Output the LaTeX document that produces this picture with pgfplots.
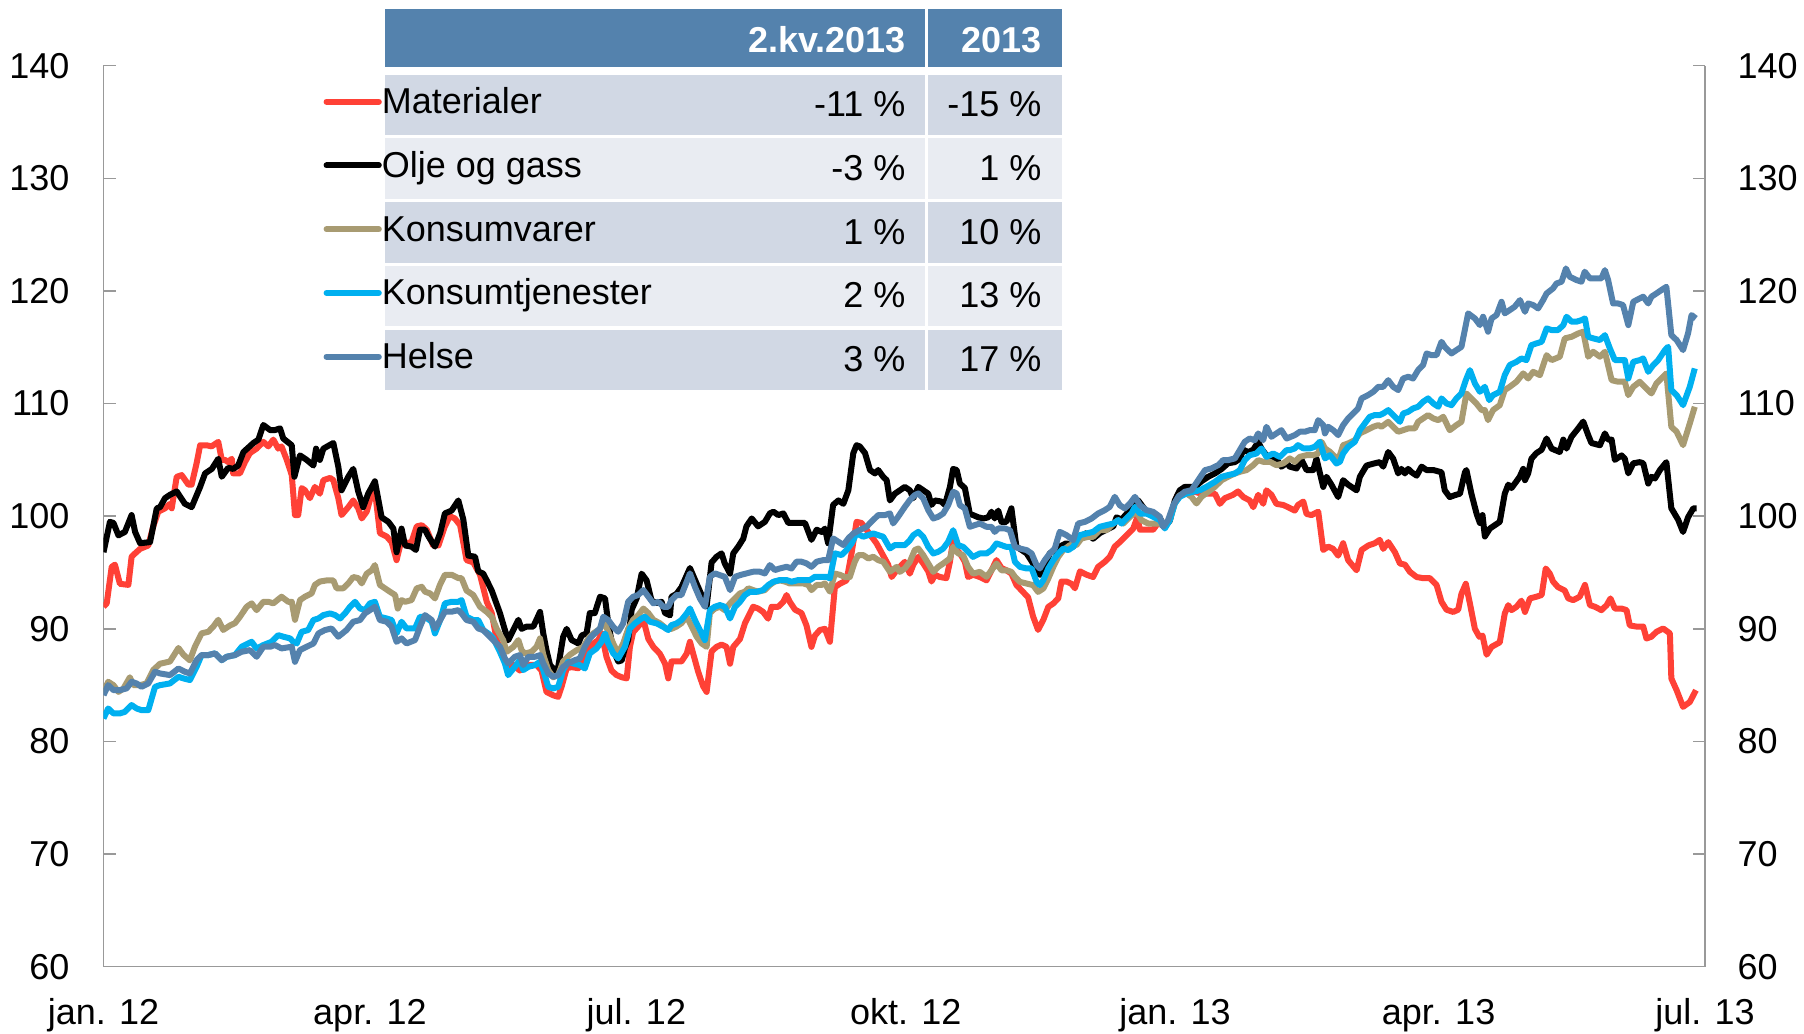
\documentclass[border=0pt]{standalone}
\usepackage{fontspec}
\setmainfont{Liberation Sans}
\usepackage{pgfplots}
\pgfplotsset{compat=1.18}
\definecolor{cRed}{HTML}{FF4136}
\definecolor{cKhaki}{HTML}{A89B72}
\definecolor{cCyan}{HTML}{00B0F0}
\definecolor{cSteel}{HTML}{5482AD}
\definecolor{hdr}{HTML}{5482AD}
\definecolor{rowA}{HTML}{D1D8E4}
\definecolor{rowB}{HTML}{E9ECF2}
\definecolor{axgray}{HTML}{999999}
\newcommand{\fs}{\fontsize{14.4}{17}\selectfont}
\begin{document}
\begin{tikzpicture}
% table background (pixel units)
\begin{scope}[x=0.4pt,y=-0.4pt]
\fill[hdr] (384.6,9.3) rectangle (925.4,67.3);
\fill[hdr] (928.4,9.3) rectangle (1062,67.3);
\foreach \i/\c in {0/rowA,1/rowB,2/rowA,3/rowB,4/rowA}{
  \fill[\c] (384.6,{74.5+63.75*\i}) rectangle (925.4,{135.2+63.75*\i});
  \fill[\c] (928.4,{74.5+63.75*\i}) rectangle (1062,{135.2+63.75*\i});
}
\node[anchor=base east,inner sep=0pt,text=white,font=\fs\bfseries] at (906,52.7) {2.kv.2013};
\node[anchor=base east,inner sep=0pt,text=white,font=\fs\bfseries] at (1042,52.7) {2013};
\foreach \i/\a/\b in {0/-11 \%/-15 \%,1/-3 \%/1 \%,2/1 \%/10 \%,3/2 \%/13 \%,4/3 \%/17 \%}{
  \node[anchor=base east,inner sep=0pt,font=\fs] at (906,{116.7+63.75*\i}) {\a};
  \node[anchor=base east,inner sep=0pt,font=\fs] at (1042,{116.7+63.75*\i}) {\b};
}
\end{scope}

\begin{axis}[
  at={(41.4pt,-26.28pt)}, anchor=north west,
  scale only axis, width=640.6pt, height=360.4pt,
  xmin=0, xmax=547, ymin=60, ymax=140,
  axis x line*=bottom, axis y line*=left,
  axis line style={axgray, line width=0.6pt},
  xtick={0,91,182,274,366,456,547},
  xticklabels={jan. 12, apr. 12, jul. 12, okt. 12, jan. 13, apr. 13, jul. 13},
  xtick style={draw=none},
  ytick={60,70,...,140},
  ytick align=inside,
  ytick style={axgray, line width=0.6pt},
  major tick length=4.8pt,
  xticklabel style={anchor=base, inner sep=0pt, yshift=-23.2pt, font=\fs},
  yticklabel style={anchor=east, inner sep=0pt, xshift=-13.4pt, font=\fs},
  /pgf/number format/assume math mode=true,
  legend cell align=left,
  legend style={at={(axis description cs:0.13740,0.97600)}, anchor=north west,
    draw=none, fill=none, inner sep=0pt, outer sep=0pt, column sep=0pt, row sep=0pt,
    font=\fs, nodes={inner sep=0pt, text height=10.5pt, text depth=15pt}},
  legend image code/.code={\draw[#1,line cap=round] (0pt,7pt) -- (20.9pt,7pt);},
]
\addplot[cRed, line width=2.4pt, line join=round] coordinates {
(0,91.96) (1.1,92.26) (2.8,95.5) (3.9,95.7) (5.6,94.0) (8.5,93.9) (9.6,96.4) (10.8,96.7) (12.5,97.1) (15.3,97.4) (17.0,99.1) (18.7,100.4) (21.0,100.7) (22.7,101.1) (23.3,100.7) (25.0,103.5) (26.7,103.65) (29.0,102.8) (30.1,102.8) (31.8,104.7) (33.0,106.3) (35.2,106.3) (36.9,106.2) (39.2,106.6) (40.4,105.0) (41.5,105.0) (42.6,104.8) (43.8,105.1) (44.3,103.8) (46.6,103.8) (48.3,104.8) (50.0,105.6) (52.3,106.0) (54.6,106.6) (56.3,106.2) (58.0,106.8) (59.7,106.0) (60.8,106.2) (62.6,105.0) (64.3,103.65) (65.4,100.1) (66.5,100.1) (67.7,102.5) (68.8,102.3) (70.5,101.6) (72.2,102.6) (73.9,102.0) (75.1,103.2) (77.4,103.4) (78.5,103.2) (80.2,101.6) (81.3,100.1) (83.6,100.8) (85.3,101.4) (87.0,100.7) (88.2,99.8) (89.9,100.4) (91.6,102.0) (92.7,102.3) (94.4,98.5) (96.7,98.2) (98.4,97.7) (100.1,96.1) (101.8,97.9) (103.0,97.6) (105.2,97.7) (107.0,99.1) (108.7,99.2) (110.4,98.8) (112.6,97.4) (114.4,97.4) (116.6,99.1) (118.3,100.0) (120.0,99.8) (121.8,99.2) (124.0,96.1) (126.3,95.9) (128.6,94.8) (130.9,92.4) (132.6,91.4) (134.3,89.0) (136.0,88.0) (138.3,86.5) (140.0,86.8)
(142.2,86.3) (143.9,86.6) (145.6,86.8) (147.9,86.8) (149.6,86.3) (151.3,84.4) (153.6,84.1) (155.3,83.96) (156.5,84.9) (158.2,86.5) (159.9,86.6) (162.2,86.5) (163.9,87.4) (165.6,88.1) (167.3,88.7) (169.0,89.0) (170.1,89.6) (171.8,87.5) (173.5,86.3) (175.2,85.9) (177.0,85.7) (178.7,85.6) (179.8,88.4) (180.9,89.7) (182.6,90.2) (184.4,90.8) (186.1,89.1) (187.8,88.4) (190.0,87.8) (191.8,86.9) (192.9,85.6) (194.0,87.1) (195.7,87.1) (197.4,87.1) (199.2,87.8) (200.3,88.85) (201.4,87.8) (203.1,86.2) (204.8,84.9) (206.0,84.4) (207.7,88.0) (209.4,88.4) (211.1,88.6) (212.8,88.4) (214.0,86.9) (215.1,88.4) (217.4,89.1) (219.1,90.5) (220.8,91.4) (221.9,91.96) (223.6,91.8) (225.3,91.5) (227.0,90.9) (228.2,91.96) (230.5,91.96) (232.2,92.4) (233.3,93.0) (234.4,92.4) (236.2,91.7) (238.4,91.4) (240.1,90.3) (241.8,88.4) (243.0,89.4) (244.7,89.9) (246.4,90.0) (248.1,88.85) (249.8,93.7) (251.5,94.0) (253.8,94.3) (255.5,96.7) (257.2,99.5) (258.9,99.4) (260.6,98.8) (262.3,98.2) (264.0,97.6) (266.3,96.5) (268.0,95.7) (269.2,94.6) (270.9,95.2)
(272.0,95.5) (273.7,95.95) (275.4,94.9) (276.6,95.7) (278.3,96.4) (280.0,95.8) (281.7,95.1) (282.8,94.2) (284.0,94.8) (285.7,94.6) (287.9,94.5) (289.1,95.95) (290.2,97.9) (291.4,97.0) (292.5,96.7) (294.2,95.95) (295.3,94.6) (297.0,94.8) (299.3,94.6) (301.6,94.3) (303.3,95.2) (305.0,96.1) (306.7,95.4) (308.4,95.2) (310.1,94.9) (311.8,93.9) (313.6,93.4) (315.8,92.8) (317.5,91.1) (319.2,89.9) (321.0,90.8) (322.7,91.95) (324.4,92.25) (326.1,92.7) (327.2,94.2) (328.9,94.2) (330.6,94.0) (331.8,93.6) (333.5,95.1) (335.8,94.8) (338.0,94.6) (339.7,95.5) (342.0,95.95) (343.7,96.4) (345.4,97.3) (347.1,97.7) (349.4,98.3) (351.7,98.9) (353.1,99.9) (354.0,98.8) (356.2,98.8) (358.5,98.8) (360.2,99.4) (362.5,99.06) (364.2,99.8) (366.5,101.7) (368.2,102.3) (369.9,102.3) (372.2,102.2) (375.0,102.0) (377.3,102.0) (379.6,102.0) (381.3,101.1) (383.0,101.6) (385.8,101.9) (387.5,102.2) (389.3,101.7) (391.5,101.4) (392.7,100.8) (394.4,101.9) (396.1,101.1) (397.2,102.3) (398.9,101.9) (400.6,101.1) (402.9,101.0) (404.6,100.8)
(406.9,100.5) (408.0,101.0) (409.8,101.3) (410.9,100.2) (412.6,100.1) (414.9,100.4) (416.6,97.0) (418.3,97.3) (420.0,97.1) (421.7,96.5) (423.4,97.6) (425.1,96.1) (428.0,95.2) (429.7,97.0) (432.0,97.4) (434.2,97.6) (435.9,97.9) (437.1,97.1) (438.8,97.7) (441.1,96.8) (442.8,95.8) (444.5,95.7) (446.2,95.06) (448.5,94.6) (450.7,94.5) (453.0,94.5) (455.3,93.9) (457.0,92.4) (458.7,91.7) (461.0,91.5) (462.7,91.7) (463.8,93.1) (465.3,94.0) (466.7,92.25) (468.4,90.0) (469.9,89.3) (471.0,89.4) (472.4,87.7) (474.1,88.4) (476.9,88.8) (478.6,91.36) (479.8,92.1) (480.9,91.66) (482.6,91.95) (484.3,92.5) (485.5,91.5) (487.2,92.7) (489.4,92.85) (491.2,93.0) (492.6,95.36) (494.0,94.9) (495.1,94.2) (496.8,93.7) (499.1,93.4) (500.3,92.7) (502.0,92.55) (504.2,92.85) (506.0,93.9) (507.7,92.1) (509.4,91.96) (511.6,91.66) (513.4,92.1) (514.7,92.7) (516.2,91.8) (518.5,91.8) (520.2,91.66) (521.3,90.3) (523.6,90.2) (525.9,90.2) (527.0,89.14) (528.7,89.3) (530.4,89.73) (532.7,90.03) (535.0,89.6) (535.5,85.59) (537.3,84.55) (539.5,83.07) (541.8,83.5) (543.9,84.55)
};
\addlegendentry{Materialer}
\addplot[black, line width=2.4pt, line join=round] coordinates {
(0,96.8) (2.2,99.5) (3.4,99.4) (5.1,98.3) (7.3,98.6) (9.6,100.1) (10.8,98.6) (12.5,97.6) (15.9,97.7) (18.2,100.7) (19.3,100.8) (21.0,101.6) (22.7,101.9) (25.0,102.2) (27.8,101.1) (30.1,100.8) (33.0,102.6) (34.7,103.8) (37.0,104.2) (39.2,105.1) (40.4,103.5) (42.6,104.3) (44.3,104.2) (46.0,104.5) (47.8,105.7) (51.2,106.5) (52.9,106.8) (54.6,108.1) (56.9,107.65) (58.6,107.65) (60.3,107.8) (61.4,106.9) (64.3,106.3) (65.2,103.5) (67.1,105.4) (69.4,105.0) (71.7,104.5) (72.6,106.0) (73.9,105.0) (75.1,106.0) (78.5,106.5) (80.2,104.4) (81.3,102.3) (83.6,103.5) (85.3,104.2) (87.0,102.2) (88.7,100.8) (90.4,102.0) (92.7,103.1) (95.0,99.9) (97.3,99.5) (99.0,98.9) (100.1,96.8) (101.8,98.9) (103.0,97.4) (105.2,97.3) (106.7,97.0) (108.1,98.8) (109.8,98.8) (111.0,98.2) (113.2,97.3) (115.0,98.5) (116.6,100.25) (118.9,100.5) (121.2,101.4) (122.9,99.7) (124.6,96.5) (126.9,96.4) (128.0,95.1) (129.7,94.9) (130.9,94.3) (132.6,93.4) (135.4,91.4) (137.1,89.9) (138.2,88.98)
(141.7,90.8) (142.8,90.0) (144.5,90.2) (146.8,90.2) (149.1,91.5) (150.2,89.6) (151.3,88.1) (152.5,86.8) (154.2,86.3) (155.3,86.6) (157.0,89.3) (158.2,90.0) (159.9,89.0) (162.2,88.7) (163.3,89.4) (165.0,89.6) (166.1,91.4) (167.8,91.4) (169.6,92.85) (171.3,92.7) (172.4,90.5) (174.1,88.1) (175.8,87.1) (177.0,87.2) (178.1,88.3) (179.2,89.0) (180.4,91.7) (182.1,92.7) (183.8,94.9) (185.5,94.3) (187.2,92.5) (188.9,92.3) (190.6,92.4) (191.8,91.4) (193.5,91.2) (194.0,92.85) (195.7,93.1) (197.4,93.7) (200.3,95.4) (202.6,94.0) (204.3,93.0) (206.0,92.0) (207.7,95.9) (209.4,96.4) (211.1,96.7) (212.2,95.8) (214.0,94.9) (215.1,96.7) (216.8,97.3) (218.5,98.0) (219.6,99.1) (221.4,99.8) (223.6,99.1) (225.9,99.5) (227.6,100.25) (228.8,100.4) (230.5,100.1) (232.2,100.25) (233.9,99.4) (235.6,99.4) (237.3,99.4) (239.6,99.4) (241.8,97.9) (243.6,98.8) (245.3,98.6) (246.4,98.9) (247.5,97.6) (249.2,101.0) (251.0,101.4) (252.7,101.1) (254.4,102.3) (256.1,105.6) (257.2,106.3) (258.3,106.2) (260.1,105.6) (261.8,104.1) (263.5,103.8) (264.6,104.1) (266.3,103.5) (267.5,103.2) (268.6,101.4) (270.3,102.0)
(272.0,102.3) (273.7,102.6) (275.4,102.3) (276.6,101.6) (278.3,102.6) (280.0,102.3) (281.7,102.0) (282.8,101.0) (284.0,101.4) (286.2,101.3) (287.4,101.0) (289.1,102.6) (290.2,104.2) (291.4,104.1) (292.5,102.9) (294.2,102.5) (295.9,100.2) (297.0,100.1) (298.8,99.9) (300.5,99.8) (302.2,99.9) (303.3,100.4) (304.4,99.8) (305.6,100.5) (306.7,99.5) (308.4,99.5) (310.1,100.7) (311.8,97.3) (313.6,97.0) (315.3,96.7) (317.5,95.8) (318.7,95.1) (319.8,94.8) (321.5,95.5) (323.2,96.7) (324.9,97.0) (326.6,97.3) (328.9,97.6) (331.2,97.3) (333.5,98.2) (335.8,98.5) (338.0,98.0) (340.3,98.5) (342.6,98.8) (344.9,99.1) (346.0,99.9) (347.7,99.7) (349.4,100.2) (351.7,101.1) (353.4,101.4) (355.1,100.8) (356.8,100.2) (358.5,100.2) (360.8,99.8) (362.5,99.1) (364.2,99.6) (365.9,101.4) (367.6,102.3) (369.3,102.6) (371.0,102.6) (372.8,102.6) (375.0,103.1) (377.3,103.5) (379.6,103.8) (381.9,104.2) (384.1,104.7) (386.4,104.8) (388.1,105.1) (389.3,105.9) (391.0,105.7) (392.7,105.9) (394.4,106.6) (395.5,106.0) (397.2,105.4) (398.9,105.3) (400.6,105.1) (402.3,104.4) (404.1,104.7)
(405.2,104.4) (407.5,104.24) (409.2,105.0) (410.9,104.1) (413.2,104.1) (414.3,105.1) (415.4,103.9) (416.6,102.6) (417.7,103.5) (419.4,102.8) (421.7,101.7) (423.4,103.2) (425.1,102.8) (428.0,102.3) (429.1,103.5) (431.4,104.5) (434.2,104.7) (435.9,104.8) (437.1,104.4) (438.8,105.7) (440.5,105.1) (442.2,103.8) (443.3,104.2) (444.5,103.8) (445.6,104.2) (446.8,103.9) (448.5,103.6) (450.2,104.4) (451.9,104.1) (454.2,104.1) (457.0,103.9) (458.1,102.3) (459.8,101.7) (461.6,101.87) (463.3,102.0) (465.0,103.9) (465.5,104.1) (467.2,102.0) (469.0,100.2) (470.1,99.4) (471.0,100.1) (471.8,98.2) (473.5,98.9) (476.9,99.5) (478.6,102.0) (479.8,102.8) (480.9,102.5) (482.6,103.1) (483.7,103.5) (484.9,104.2) (485.5,103.2) (486.6,103.8) (487.7,105.1) (489.4,105.6) (491.2,105.9) (492.9,106.9) (494.6,106.0) (497.4,105.7) (498.6,106.8) (499.7,106.0) (501.4,107.05) (503.7,107.8) (505.4,108.4) (507.1,107.2) (508.2,106.5) (511.1,106.3) (512.8,107.35) (513.9,106.8) (515.1,106.8) (516.2,105.0) (518.5,105.4) (519.6,105.1) (520.8,103.8) (522.5,104.7) (524.7,104.8) (525.9,104.7) (527.6,102.9) (528.7,103.5) (529.9,103.35) (531.6,104.1) (533.8,104.8) (535.5,100.7) (537.8,99.7) (539.5,98.6) (541.2,99.9) (543.0,100.7) (544.1,100.7)
};
\addlegendentry{Olje og gass}
\addplot[cKhaki, line width=2.4pt, line join=round] coordinates {
(0,84.4) (1.6,85.3) (3.4,85.0) (5.1,84.4) (6.8,84.7) (9.0,85.7) (10.2,85.0) (12.5,85.0) (14.7,85.15) (17.0,86.35) (19.3,86.9) (22.7,87.1) (25.6,88.3) (27.3,87.7) (29.5,87.2) (31.2,88.4) (33.5,89.6) (35.8,89.74) (37.5,90.2) (39.2,90.8) (40.9,89.9) (43.2,90.3) (44.9,90.5) (46.6,91.07) (48.9,91.96) (50.6,92.26) (52.3,91.66) (54.6,92.4) (56.3,92.4) (58.0,92.26) (60.8,92.85) (63.1,92.4) (64.3,92.4) (65.4,90.8) (67.1,92.55) (68.8,92.85) (71.1,93.15) (72.2,93.9) (73.9,94.2) (76.2,94.3) (78.5,94.3) (79.6,93.6) (81.9,93.6) (83.6,94.03) (85.3,94.6) (87.0,94.5) (88.2,94.03) (89.9,94.9) (91.6,95.2) (92.7,95.66) (94.4,93.9) (96.1,93.6) (97.8,93.3) (99.6,93.0) (100.5,91.8) (101.8,92.55) (103.0,92.4) (105.2,92.55) (107.0,93.6) (108.7,93.73) (109.8,93.3) (111.5,93.15) (113.2,92.7) (114.9,93.9) (116.6,94.8) (118.9,94.8) (121.2,94.5) (122.3,94.5) (124.0,93.4) (126.3,93.0) (128.6,91.96) (130.9,91.5) (132.6,91.07) (134.3,90.0) (136.5,89.0) (137.7,87.96)
(140.0,88.4) (141.7,89.0) (142.8,88.1) (143.9,87.8) (146.2,87.96) (147.9,88.4) (149.1,89.15) (150.2,87.7) (151.9,86.35) (153.6,85.7) (155.3,85.9) (157.0,87.1) (159.3,87.7) (161.6,88.1) (163.9,88.4) (165.6,89.15) (167.3,89.6) (169.6,90.0) (170.7,90.8) (172.4,89.74) (174.1,88.7) (175.8,87.8) (177.5,88.7) (179.2,90.0) (180.9,90.8) (182.6,91.2) (184.4,91.8) (186.1,91.4) (187.8,90.8) (190.0,90.5) (192.3,90.0) (194.0,90.0) (195.7,90.2) (197.4,90.5) (199.2,91.07) (200.9,90.2) (202.6,89.3) (204.3,88.7) (206.0,88.4) (207.1,91.4) (208.8,91.8) (210.5,91.96) (212.2,91.66) (214.0,92.26) (215.7,92.7) (217.4,93.15) (219.1,93.3) (220.2,93.6) (221.9,93.44) (223.6,93.3) (225.9,93.44) (227.6,93.9) (229.3,94.2) (231.0,94.3) (232.7,94.2) (234.4,94.03) (236.7,94.03) (239.0,94.03) (240.7,93.9) (241.8,93.44) (243.6,93.9) (245.3,93.9) (246.4,94.03) (248.1,93.3) (249.8,94.9) (251.5,94.8) (253.2,94.6) (254.9,94.6) (256.6,95.96) (257.8,96.55) (259.5,96.55) (261.2,96.25) (262.9,96.4) (264.6,96.1) (266.3,95.96) (268.6,95.07) (270.9,95.5)
(272.0,95.06) (273.7,95.36) (275.4,95.95) (277.1,97.0) (278.3,97.13) (280.0,96.54) (281.7,95.8) (283.4,95.06) (285.1,95.5) (286.8,95.8) (289.1,96.25) (290.2,97.28) (291.9,96.7) (293.6,96.54) (295.3,95.5) (297.0,94.9) (299.3,95.06) (301.6,94.62) (303.3,95.2) (305.0,95.8) (306.7,95.2) (308.4,95.2) (310.1,95.06) (311.3,94.62) (313.0,94.17) (315.3,94.02) (317.5,93.88) (319.2,93.28) (321.0,93.58) (322.7,94.47) (324.4,95.5) (326.1,96.39) (327.8,96.99) (330.1,97.43) (332.3,97.43) (334.0,98.02) (336.3,98.17) (338.0,98.17) (340.3,98.76) (342.6,98.76) (344.9,99.35) (346.6,99.65) (348.3,99.35) (350.6,99.95) (352.8,100.39) (354.5,99.65) (356.8,99.35) (358.5,99.35) (360.8,99.35) (362.5,99.06) (364.2,99.65) (365.9,101.13) (367.6,101.87) (369.9,102.02) (371.6,101.72) (373.3,101.13) (375.0,101.72) (377.3,102.17) (379.6,102.61) (381.9,103.2) (384.1,103.5) (386.4,103.79) (388.1,103.94) (390.4,104.09) (392.7,104.53) (394.4,104.98) (396.1,104.83) (398.4,104.83) (400.6,104.53) (402.9,104.68)
(405.2,105.13) (406.9,104.83) (408.6,105.27) (410.9,105.42) (413.2,105.42) (414.9,105.57) (416.0,106.61) (417.2,106.02) (418.9,105.72) (421.1,105.13) (422.3,105.42) (423.4,106.31) (425.1,106.46) (427.4,106.76) (429.1,107.35) (431.4,107.64) (433.7,107.94) (435.4,108.09) (436.5,107.94) (438.8,108.38) (440.5,107.94) (442.2,107.5) (443.9,107.64) (445.6,107.79) (447.9,107.79) (449.0,108.38) (450.7,108.68) (452.4,108.98) (454.2,108.68) (455.9,108.53) (457.6,108.83) (459.8,107.64) (462.1,108.09) (463.8,108.38) (465.5,110.9) (467.2,110.46) (468.9,110.01) (470.7,109.42) (471.8,109.42) (472.9,108.53) (474.6,109.42) (476.9,109.86) (478.6,111.2) (480.3,111.49) (482.6,111.94) (484.9,112.68) (486.6,112.23) (488.3,112.82) (490.6,112.53) (492.9,114.3) (494.6,113.86) (497.4,114.16) (499.1,115.79) (501.4,115.93) (503.7,116.23) (505.4,116.38) (507.1,114.16) (508.8,114.6) (511.1,114.16) (512.8,114.6) (515.1,112.08) (517.3,111.94) (519.6,111.94) (520.8,110.75) (522.5,111.49) (524.7,111.94) (526.4,111.49) (528.7,110.9) (530.4,111.79) (533.8,112.68) (535.5,107.94) (537.3,107.5) (539.5,106.31) (541.8,108.24) (543.5,109.72)
};
\addlegendentry{Konsumvarer}
\addplot[cCyan, line width=2.4pt, line join=round] coordinates {
(0,82.04) (1.6,82.93) (3.4,82.49) (5.6,82.49) (7.3,82.63) (9.6,83.23) (11.3,82.93) (13.0,82.78) (15.3,82.78) (17.6,84.85) (19.3,85.0) (22.7,85.15) (25.6,85.74) (27.3,85.6) (29.5,85.45) (31.8,86.63) (33.5,87.67) (35.8,87.67) (38.1,87.82) (40.4,87.22) (42.1,87.52) (44.9,87.67) (47.2,88.41) (50.6,88.85) (52.3,88.26) (54.6,88.56) (57.4,88.85) (59.7,89.44) (61.4,89.3) (63.7,89.15) (64.8,88.85) (66.0,88.7) (67.7,89.74) (69.9,89.89) (71.7,90.78) (73.4,90.92) (75.1,91.22) (77.4,91.37) (79.1,91.22) (80.8,90.92) (82.5,91.37) (84.2,91.96) (85.9,92.4) (87.6,91.81) (89.3,91.66) (91.0,92.26) (92.7,92.4) (94.4,91.07) (96.7,90.92) (98.4,90.78) (100.1,89.59) (101.8,90.63) (103.5,90.03) (106.4,90.03) (108.1,91.07) (109.8,91.07) (112.1,90.63) (113.2,89.59) (115.0,90.78) (116.6,92.26) (118.9,92.4) (121.2,92.4) (122.3,92.55) (124.0,91.07) (126.3,90.78) (128.0,90.78) (129.7,89.89) (131.4,89.59) (133.1,89.15) (135.4,87.96) (137.1,86.93)
(138.2,85.89) (140.5,86.63) (142.2,87.22) (143.4,86.34) (145.1,86.63) (147.4,86.78) (149.1,87.07) (150.2,86.34) (151.9,84.85) (153.6,84.71) (155.3,84.85) (157.0,86.34) (158.7,87.07) (160.4,86.93) (162.7,86.78) (164.4,86.48) (166.1,87.82) (168.4,88.26) (170.1,88.85) (171.3,89.59) (172.4,88.7) (174.1,87.82) (175.8,87.37) (178.1,88.41) (179.8,90.03) (181.5,90.48) (183.8,90.92) (184.9,91.07) (186.6,90.63) (188.9,90.48) (191.2,90.18) (192.9,89.89) (194.0,90.33) (195.7,90.48) (197.4,90.78) (199.2,91.37) (200.3,91.81) (202.0,90.78) (203.7,89.89) (205.4,89.0) (207.1,91.66) (208.8,91.96) (210.5,92.11) (212.2,91.96) (214.0,90.92) (215.7,91.96) (217.4,92.4) (219.1,93.0) (220.8,93.29) (223.1,93.29) (225.3,93.44) (227.0,93.88) (228.8,94.18) (231.0,94.33) (233.3,94.33) (235.0,94.18) (237.3,94.33) (239.6,94.33) (241.3,94.33) (243.0,94.62) (245.3,94.62) (247.0,94.62) (248.1,94.48) (249.8,96.7) (252.1,96.55) (253.8,96.99) (255.5,97.58) (257.2,98.47) (259.5,98.18) (261.2,98.32) (262.9,98.47) (264.6,98.32) (266.3,98.18) (268.6,97.14) (270.3,97.44)
(272.0,97.43) (273.7,97.43) (275.4,97.87) (276.6,98.32) (278.3,98.61) (280.0,98.17) (281.7,97.28) (283.4,96.69) (285.1,96.84) (286.8,97.13) (288.5,97.73) (290.2,98.76) (291.9,97.43) (293.6,97.28) (295.3,96.84) (297.0,96.39) (299.3,96.69) (301.6,96.69) (303.3,96.99) (305.0,97.58) (306.7,97.43) (308.4,97.28) (310.1,97.28) (311.3,95.95) (313.0,95.5) (315.3,95.36) (317.0,95.36) (318.7,94.17) (319.8,93.88) (321.0,94.32) (322.7,95.36) (324.4,96.1) (326.1,96.69) (327.8,97.13) (329.5,96.99) (331.2,97.28) (333.5,98.32) (335.8,98.47) (338.0,98.61) (340.3,99.06) (342.6,99.21) (344.9,99.35) (346.6,99.65) (347.7,99.35) (349.4,99.8) (351.1,100.24) (352.3,100.83) (354.0,100.24) (356.2,100.24) (358.5,99.95) (360.8,99.65) (362.5,98.91) (364.2,99.65) (365.9,101.13) (367.6,101.72) (369.9,102.02) (372.2,102.17) (374.5,102.31) (376.7,102.61) (379.6,103.05) (381.9,103.5) (384.1,103.65) (386.4,103.79) (388.1,104.09) (389.8,104.98) (391.5,105.42) (393.8,105.57) (395.5,106.01) (397.2,105.27) (399.5,105.57) (401.8,105.27) (404.1,105.87)
(405.2,105.87) (406.9,106.02) (408.0,106.31) (409.8,106.02) (412.0,106.02) (413.7,106.16) (415.4,106.61) (417.2,105.13) (418.9,105.42) (421.1,104.68) (422.3,104.83) (423.4,105.57) (425.1,106.16) (427.4,106.61) (429.1,107.64) (430.8,108.24) (432.5,108.83) (434.2,108.98) (435.9,108.98) (437.1,109.12) (438.8,109.42) (440.5,108.98) (442.8,108.38) (443.9,109.12) (445.6,109.27) (447.3,109.57) (449.0,109.72) (450.7,110.16) (452.4,110.46) (454.2,110.01) (455.9,109.72) (457.0,110.46) (458.7,110.01) (460.4,109.86) (462.1,110.46) (463.8,110.9) (465.3,112.08) (466.7,112.97) (468.4,111.79) (470.1,111.05) (471.8,111.49) (473.3,110.31) (474.6,110.75) (476.9,111.05) (478.6,112.53) (480.3,113.42) (482.6,113.71) (484.3,114.01) (486.0,113.86) (487.7,115.19) (489.4,115.34) (491.2,115.49) (492.9,116.67) (494.6,116.53) (496.8,116.53) (498.6,116.97) (499.7,117.71) (501.4,117.27) (503.1,117.27) (504.8,117.41) (506.0,117.56) (507.1,115.93) (508.8,115.79) (511.1,115.64) (512.8,116.08) (514.5,114.9) (516.2,113.86) (517.9,113.86) (519.6,113.86) (520.8,112.23) (522.5,113.71) (524.7,113.86) (525.9,114.01) (527.6,112.82) (529.3,113.42) (531.0,113.86) (533.3,114.75) (534.4,115.04) (535.5,111.2) (537.3,110.75) (539.5,109.86) (541.8,111.49) (543.5,113.12)
};
\addlegendentry{Konsumtjenester}
\addplot[cSteel, line width=2.4pt, line join=round] coordinates {
(0,84.11) (1.6,85.0) (3.4,84.56) (5.6,84.56) (7.9,84.71) (9.6,85.3) (11.3,85.15) (13.0,84.85) (15.3,85.15) (17.6,86.19) (19.3,86.04) (22.7,85.89) (25.6,86.48) (27.8,86.19) (29.5,86.04) (31.8,87.22) (33.5,87.67) (35.8,87.67) (38.1,87.82) (40.4,87.22) (42.1,87.52) (44.9,87.67) (47.2,87.96) (50.0,88.11) (52.3,87.52) (54.6,88.41) (56.9,88.41) (58.6,88.56) (60.8,88.26) (64.3,88.41) (65.4,87.07) (67.1,88.11) (69.4,88.41) (71.7,88.7) (73.4,89.59) (75.6,89.89) (77.9,90.03) (80.2,89.3) (83.0,89.89) (85.3,90.63) (87.6,90.78) (89.3,91.37) (91.0,91.66) (92.7,91.96) (94.4,90.78) (96.7,90.63) (98.4,90.18) (100.1,88.85) (101.8,89.15) (103.5,88.7) (106.4,89.0) (108.1,90.18) (109.8,91.22) (112.1,90.78) (113.2,90.03) (115.0,90.78) (116.6,91.52) (118.9,91.52) (121.2,91.66) (122.3,91.37) (124.0,90.78) (126.3,90.63) (128.0,90.03) (129.7,89.89) (131.4,89.44) (133.1,89.0) (135.4,88.41) (137.1,87.37)
(138.2,86.93) (140.5,87.52) (142.2,87.67) (143.4,86.78) (145.1,87.52) (147.4,87.52) (149.1,87.67) (150.2,86.93) (151.9,86.04) (153.6,85.74) (155.3,85.89) (157.0,86.63) (158.7,86.93) (161.0,87.22) (162.7,87.37) (164.4,88.41) (166.1,89.15) (167.8,89.59) (169.6,90.03) (170.7,91.07) (172.4,90.78) (174.1,90.18) (175.8,89.74) (177.5,90.48) (179.2,92.4) (180.9,92.85) (182.6,93.0) (184.4,93.44) (186.1,92.85) (187.8,92.26) (189.5,92.4) (191.2,91.96) (192.9,91.96) (194.0,92.55) (195.7,93.0) (197.4,93.0) (199.2,94.18) (200.3,94.92) (202.0,93.73) (203.7,92.7) (205.4,91.96) (207.1,94.62) (208.8,94.92) (210.5,94.77) (212.2,94.62) (214.0,93.44) (215.7,94.62) (217.4,94.77) (219.6,94.92) (221.9,95.07) (224.2,95.07) (225.9,94.92) (227.6,95.66) (229.3,95.22) (231.0,95.36) (233.3,95.51) (235.0,95.36) (236.7,95.96) (238.4,95.96) (240.1,95.81) (241.8,95.51) (243.6,95.96) (245.8,96.1) (247.5,96.1) (249.2,98.03) (251.0,97.73) (252.7,97.44) (254.4,98.03) (256.1,98.47) (258.3,98.77) (260.6,99.06) (262.3,99.51) (264.6,100.1) (266.9,100.1) (268.6,100.25) (269.7,99.36) (271.4,99.95)
(273.7,100.83) (275.4,101.43) (277.1,101.87) (278.3,102.02) (280.0,101.57) (281.7,100.54) (283.4,99.8) (285.1,99.95) (286.8,100.24) (288.5,100.98) (290.2,102.17) (291.4,102.02) (292.5,100.98) (294.2,100.69) (295.9,99.06) (297.6,99.21) (299.3,99.35) (301.6,99.06) (303.3,99.06) (304.4,98.61) (305.6,98.91) (307.9,98.91) (309.6,98.76) (311.3,97.28) (313.0,97.13) (315.3,96.99) (317.0,96.69) (318.7,95.65) (319.8,95.36) (321.5,96.1) (323.2,96.69) (324.9,97.13) (326.6,98.61) (328.9,98.32) (331.2,97.87) (332.9,99.35) (335.2,99.5) (337.5,99.8) (339.7,100.24) (342.0,100.54) (343.7,100.83) (345.4,101.72) (347.1,100.98) (348.8,100.69) (350.6,101.13) (352.3,101.72) (354.0,100.98) (356.2,100.54) (358.5,100.39) (360.8,99.95) (361.9,99.06) (363.6,99.65) (365.4,100.98) (367.1,101.72) (369.3,102.17) (371.6,102.31) (373.9,103.2) (376.2,104.09) (378.4,104.24) (380.7,104.53) (382.4,104.98) (384.1,104.98) (386.4,105.13) (388.1,105.87) (389.8,106.61) (391.5,106.9) (393.2,106.75) (394.4,107.35) (396.1,106.75) (397.2,107.94) (398.9,107.05) (400.6,107.35) (402.3,107.64) (404.1,106.9)
(406.9,107.2) (408.6,107.5) (410.3,107.5) (412.0,107.64) (413.7,107.64) (414.9,108.53) (416.6,108.09) (417.2,107.35) (418.3,107.94) (420.0,107.64) (421.7,107.2) (423.4,108.09) (425.1,108.68) (426.8,109.12) (428.5,109.57) (429.7,110.46) (431.9,110.75) (433.7,111.05) (435.4,111.49) (437.1,111.49) (438.8,112.08) (440.5,111.49) (442.2,111.2) (443.9,112.23) (445.6,112.38) (447.3,112.23) (449.0,112.97) (450.7,113.42) (451.9,114.45) (453.6,114.3) (455.3,114.3) (457.0,115.49) (458.1,115.04) (460.4,114.45) (462.1,114.75) (463.8,115.04) (466.1,118.01) (468.4,117.56) (470.1,116.97) (471.2,117.71) (472.9,116.38) (474.1,117.56) (475.8,117.86) (477.5,119.04) (478.6,118.01) (480.3,118.3) (482.0,118.6) (483.8,119.19) (485.5,118.15) (486.6,118.89) (488.3,118.75) (490.0,118.45) (491.7,119.19) (492.9,119.78) (495.1,120.23) (496.3,120.67) (498.0,120.82) (499.5,122.0) (500.8,121.26) (503.1,120.97) (504.8,120.82) (505.9,121.71) (507.7,121.11) (509.9,121.11) (511.6,121.11) (512.8,121.85) (513.9,120.97) (515.6,118.89) (517.3,118.89) (519.0,118.75) (520.8,116.97) (522.5,119.04) (524.7,119.34) (525.9,119.49) (527.6,118.89) (528.7,119.49) (530.4,119.78) (532.1,120.08) (533.8,120.37) (535.5,116.08) (537.3,115.64) (539.5,114.75) (541.2,116.23) (542.4,117.86) (543.9,117.56)
};
\addlegendentry{Helse}
\end{axis}

\begin{axis}[
  at={(41.4pt,-26.28pt)}, anchor=north west,
  scale only axis, width=640.6pt, height=360.4pt,
  xmin=0, xmax=547, ymin=60, ymax=140,
  axis x line=none, axis y line*=right,
  axis line style={axgray, line width=0.6pt},
  ytick={60,70,...,140},
  ytick align=inside,
  ytick style={axgray, line width=0.6pt},
  major tick length=4.8pt,
  yticklabel style={anchor=west, inner sep=0pt, xshift=12.8pt, font=\fs},
  /pgf/number format/assume math mode=true,
]
\addplot[draw=none] coordinates {(0,60)};
\end{axis}

\pgfresetboundingbox
\useasboundingbox (0,0) rectangle (721.6pt,-413.2pt);
\end{tikzpicture}
\end{document}
